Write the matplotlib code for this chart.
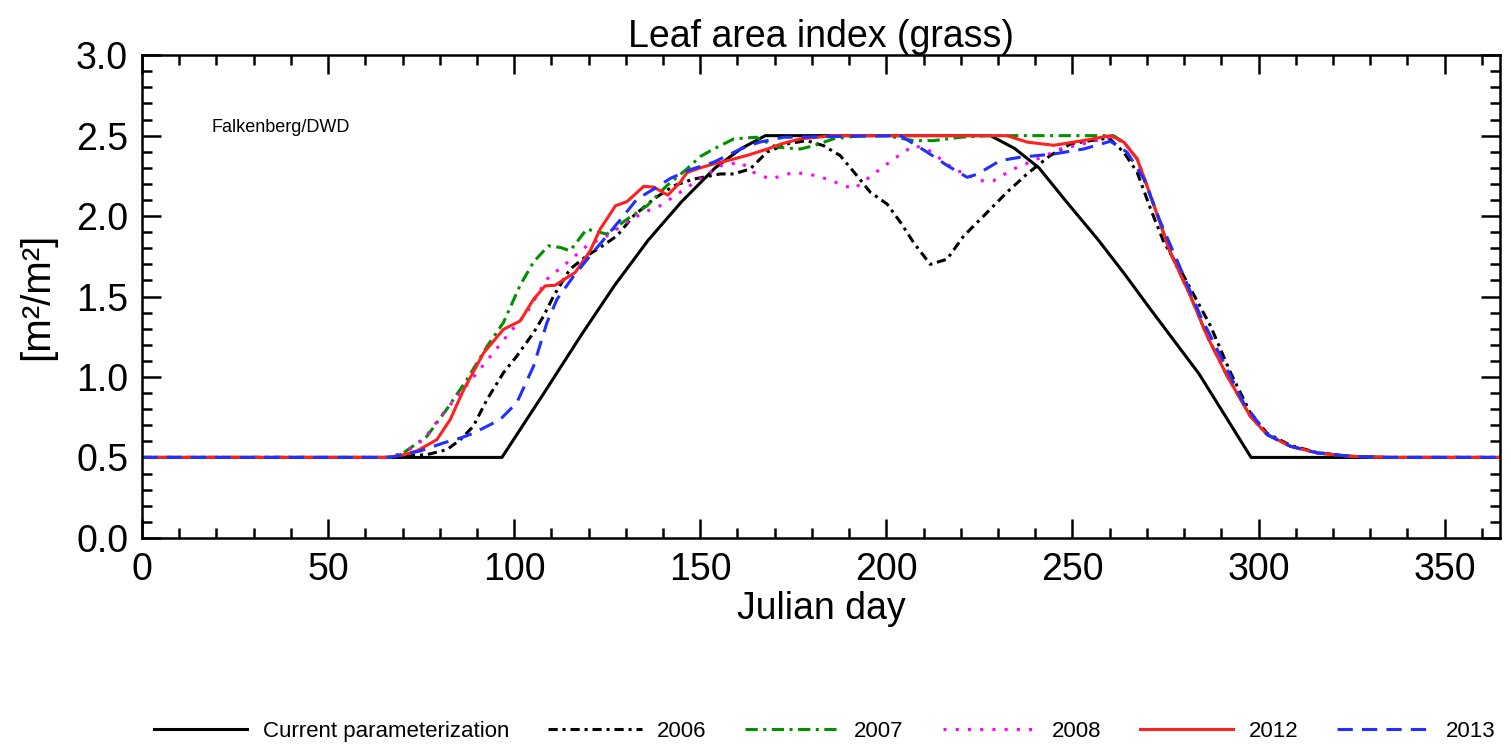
import matplotlib
matplotlib.use("Agg")
from matplotlib import pyplot as plt
from matplotlib.ticker import MultipleLocator, FormatStrFormatter

plt.rcParams['font.family'] = ['Liberation Sans', 'DejaVu Sans']

# Current parameterization
cur_day = [0, 96.7, 108, 118, 127, 136, 145, 154, 161, 167.5, 228, 234.5, 241, 248, 257, 264, 271, 284, 298, 365]
cur_val = [0.5, 0.5, 0.9, 1.26, 1.57, 1.85, 2.09, 2.30, 2.42, 2.5, 2.5, 2.42, 2.30, 2.10, 1.85, 1.64, 1.42, 1.02, 0.5, 0.5]

# 2006
d2006 = [0, 66, 70.2, 76.5, 81.9, 85.5, 89, 92.7, 97.1, 100.7, 105.2, 107.9, 110.6, 115, 119.5, 123.1,
         127.6, 132.1, 137.5, 142.9, 148.2, 155.4, 159, 163.4, 167.9, 173.3, 178.6, 183.1, 187.6, 192.1,
         195.7, 200.2, 203.8, 207.3, 211.8, 216.3, 220.8, 226.2, 232.4, 237.8, 244, 249.5, 254.8, 259.8,
         263.8, 267.4, 271, 274.6, 279.9, 287.1, 292.5, 297.8, 302.3, 308.6, 315.8, 324.7, 335, 365]
v2006 = [0.5, 0.5, 0.507, 0.517, 0.548, 0.61, 0.693, 0.86, 1.026, 1.13, 1.275, 1.379, 1.504, 1.67, 1.753, 1.805,
         1.877, 2.002, 2.106, 2.189, 2.23, 2.262, 2.262, 2.293, 2.397, 2.449, 2.469, 2.438, 2.376, 2.251,
         2.148, 2.075, 1.961, 1.836, 1.70, 1.732, 1.877, 2.002, 2.148, 2.262, 2.376, 2.449, 2.469, 2.485,
         2.397, 2.272, 2.044, 1.836, 1.628, 1.317, 1.026, 0.777, 0.65, 0.575, 0.53, 0.507, 0.5, 0.5]

# 2007
d2007 = [0, 66, 70.2, 76.5, 81.9, 87.3, 92.7, 97.1, 101.6, 105.2, 109.2, 112.4, 115, 119.5, 124.9, 130.3,
         135.7, 141, 146.4, 150, 153.6, 159, 165, 170.6, 176.9, 180.5, 185.8, 193, 200, 207.3, 212.7, 219.9,
         227, 261, 263.8, 267.4, 271, 276.3, 281.7, 286.2, 291.6, 297.8, 302.3, 308.6, 315.8, 324.7, 335, 365]
v2007 = [0.5, 0.5, 0.528, 0.63, 0.80, 0.984, 1.19, 1.338, 1.57, 1.715, 1.815, 1.805, 1.784, 1.919, 1.888, 1.98,
         2.064, 2.189, 2.293, 2.37, 2.417, 2.48, 2.49, 2.428, 2.417, 2.438, 2.48, 2.50, 2.50, 2.469, 2.469, 2.49,
         2.50, 2.50, 2.46, 2.355, 2.127, 1.774, 1.504, 1.254, 1.005, 0.756, 0.642, 0.569, 0.528, 0.507, 0.5, 0.5]

# 2008
d2008 = [0, 66, 70, 75.6, 81, 85.5, 90, 94.4, 98, 103.4, 108.8, 114.2, 119.5, 124.9, 130.3, 134.8, 139.2,
         144.6, 149.1, 155.4, 160.8, 164.3, 168.8, 175.1, 181.4, 187.6, 191.2, 196.6, 202, 207.3, 211, 218.1,
         225.3, 228.8, 234.2, 239.6, 246.8, 253, 260, 263.8, 267.4, 271, 276.3, 281.7, 286.2, 291.6, 297.8,
         302.3, 308.6, 315.8, 324.7, 335, 365]
v2008 = [0.5, 0.5, 0.52, 0.61, 0.777, 0.90, 1.026, 1.15, 1.254, 1.40, 1.608, 1.71, 1.815, 1.877, 1.961, 2.023, 2.064,
         2.148, 2.22, 2.313, 2.335, 2.272, 2.23, 2.272, 2.251, 2.20, 2.168, 2.262, 2.355, 2.438, 2.417, 2.293,
         2.22, 2.22, 2.293, 2.345, 2.417, 2.45, 2.49, 2.46, 2.355, 2.127, 1.774, 1.504, 1.254, 1.005, 0.756,
         0.642, 0.569, 0.528, 0.507, 0.5, 0.5]

# 2012
d2012 = [0, 66, 70, 73.8, 79.2, 82.8, 86.4, 91.8, 97.1, 101.6, 105.2, 108.3, 111, 114.2, 116.4, 120.4, 123.1,
         127.2, 130.3, 134.8, 137.5, 141.3, 144.6, 146.4, 150, 153.6, 159, 163, 168, 172, 176.9, 185.8, 232.4,
         237.8, 245, 253, 260.2, 263.8, 267.4, 271, 276.3, 281.7, 286.2, 291.6, 297.8, 302.3, 308.6, 315.8,
         324.7, 335, 365]
v2012 = [0.5, 0.5, 0.515, 0.54, 0.61, 0.735, 0.92, 1.15, 1.296, 1.348, 1.483, 1.566, 1.57, 1.618, 1.65, 1.784, 1.919,
         2.064, 2.09, 2.185, 2.18, 2.13, 2.21, 2.27, 2.30, 2.324, 2.355, 2.38, 2.417, 2.45, 2.48, 2.50, 2.50,
         2.46, 2.44, 2.47, 2.50, 2.46, 2.355, 2.127, 1.774, 1.504, 1.254, 1.005, 0.756, 0.642, 0.569, 0.528,
         0.507, 0.5, 0.5]

# 2013
d2013 = [0, 66.7, 74.7, 81, 85.5, 89, 96.2, 100.7, 105.2, 108.8, 111.5, 116, 120.4, 124.9, 129.4, 133, 137.5,
         142, 147.5, 153.6, 160.8, 166, 172.4, 203.8, 211, 216.3, 221.7, 224.4, 230.6, 236, 245, 253, 260.2,
         264.7, 269.2, 273.7, 279.9, 284.4, 290.7, 296, 302.3, 308.6, 315.8, 324.7, 335, 365]
v2013 = [0.5, 0.5, 0.54, 0.59, 0.62, 0.65, 0.735, 0.84, 1.067, 1.338, 1.483, 1.628, 1.753, 1.877, 2.002, 2.106, 2.168,
         2.235, 2.29, 2.335, 2.417, 2.46, 2.49, 2.50, 2.397, 2.315, 2.241, 2.26, 2.345, 2.366, 2.386, 2.417, 2.465,
         2.397, 2.23, 1.96, 1.628, 1.379, 1.088, 0.839, 0.642, 0.569, 0.528, 0.507, 0.5, 0.5]

fig = plt.figure(figsize=(15.11, 7.46), dpi=100)
ax = fig.add_axes([0.094, 0.279, 0.899, 0.647])

lw = 2.2
ax.plot(cur_day, cur_val, color='black', lw=lw, label='Current parameterization')
ax.plot(d2006, v2006, color='black', lw=lw, dashes=(3, 1.6, 1, 1.6), label='2006')
ax.plot(d2007, v2007, color='#009000', lw=lw, dashes=(4, 1.8, 1, 1.8), label='2007')
ax.plot(d2008, v2008, color='#ff00ff', lw=lw, dashes=(1, 3), label='2008')
ax.plot(d2012, v2012, color='#ff2020', lw=lw, label='2012')
ax.plot(d2013, v2013, color='#2030ff', lw=lw, dashes=(5, 3), label='2013')

ax.set_xlim(0, 365)
ax.set_ylim(0, 3.0)
ax.xaxis.set_major_locator(MultipleLocator(50))
ax.xaxis.set_minor_locator(MultipleLocator(10))
ax.yaxis.set_major_locator(MultipleLocator(0.5))
ax.yaxis.set_minor_locator(MultipleLocator(0.1))
ax.yaxis.set_major_formatter(FormatStrFormatter('%.1f'))
ax.tick_params(which='both', direction='in', top=True, right=True, width=1.8, labelsize=27)
ax.tick_params(which='major', length=14, pad=10)
ax.tick_params(which='minor', length=7)
for s in ax.spines.values():
    s.set_linewidth(1.8)

ax.set_title('Leaf area index (grass)', fontsize=27, pad=6)
ax.set_xlabel('Julian day', fontsize=27, labelpad=2)
ax.set_ylabel('[m²/m²]', fontsize=29, labelpad=14)
ax.text(0.051, 0.85, 'Falkenberg/DWD', transform=ax.transAxes, fontsize=13, va='center')

fig.legend(loc='center', bbox_to_anchor=(0.546, 0.02), ncol=6, frameon=False, fontsize=16,
           handlelength=4.2, handletextpad=0.7, columnspacing=1.75)

fig.savefig('out.png', dpi=100)
